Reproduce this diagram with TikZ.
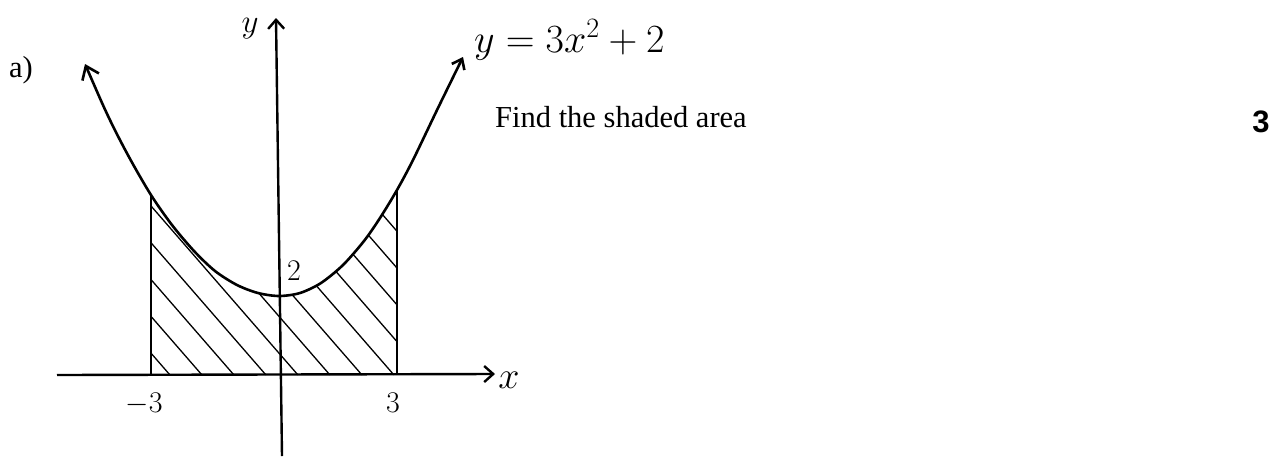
\RequirePackage{fix-cm}
\documentclass[tikz,border=0pt]{standalone}
\usepackage{fontspec}
\setmainfont{Liberation Serif}
\newfontfamily\markfont{Liberation Sans}
\usetikzlibrary{arrows.meta}

\begin{document}
\begin{tikzpicture}[
    x=1pt,y=-1pt,
    axis/.style={line width=2.4pt,-{Straight Barb[length=9pt,width=16pt]}},
    curve/.style={line width=2.6pt,{Straight Barb[length=12pt,width=18pt]}-{Straight Barb[length=9pt,width=14pt]}},
    bound/.style={line width=2.6pt},
    hatch/.style={line width=1.3pt},
    hand/.style={inner sep=0pt,font=\fontsize{30}{30}\selectfont},
    txt/.style={inner sep=0pt,font=\fontsize{30.5}{31}\selectfont}
  ]
    \useasboundingbox (0,0) rectangle (1278,456);
    \coordinate (xl) at (57,375);
    \coordinate (xr) at (495,374);
    \coordinate (yb) at (282,456);
    \coordinate (yt) at (276,18);
    \coordinate (lb) at (151,375);
    \coordinate (lt) at (151,195);
    \coordinate (rb) at (397,375);
    \coordinate (rt) at (397,190);

    \begin{scope}
      \clip (lb) -- plot[smooth] coordinates {(151,195) (172,225) (194,251) (215,271) (237,285) (258,293) (279,296) (300,293) (321,283) (343,265) (364,241) (380,218) (397,190)} -- (rb) -- cycle;
      \foreach \hx in {170,202,...,560}
        \draw[hatch] (\hx,375) -- ++(-200,-230);
    \end{scope}

    \draw[axis] (xl) -- (xr);
    \draw[axis] (yb) -- (yt);
    \draw[bound] (lb) -- (lt);
    \draw[bound] (rb) -- (rt);
    \draw[curve] plot[smooth] coordinates {(85,64) (109,118) (129,157) (151,195) (172,225) (194,251) (215,271) (237,285) (258,293) (279,296) (300,293) (321,283) (343,265) (364,241) (380,218) (397,190) (413,160) (438,108) (463,57)};

    \node[txt] (part) at (21,70) {a)};
    \node[hand,font=\fontsize{33}{33}\selectfont] (ylab) at (250,29) {$y$};
    \node[hand,anchor=west,font=\fontsize{40}{40}\selectfont] (eqn) at (474,40) {$y=3x^2+2$};
    \node[hand] (two) at (294,271) {$2$};
    \node[hand] (mthree) at (144,404) {$-3$};
    \node[hand] (pthree) at (393,403) {$3$};
    \node[hand,font=\fontsize{38}{38}\selectfont] (xlab) at (509,380) {$x$};
    \node[txt,anchor=base west] (task) at (495,127) {Find the shaded area};
    \node[txt,font=\markfont\bfseries\fontsize{31}{31}\selectfont] (marks) at (1261,122) {3};
  \end{tikzpicture}
\end{document}
